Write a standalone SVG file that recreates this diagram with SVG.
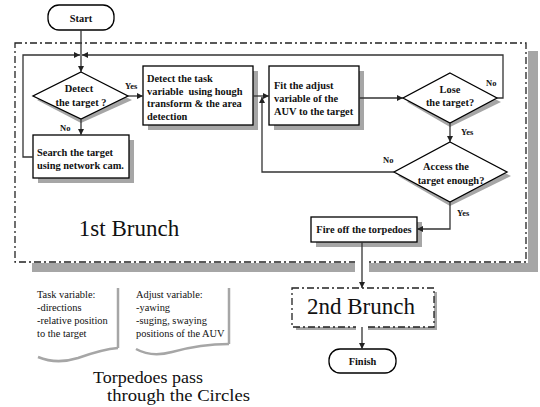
<svg xmlns="http://www.w3.org/2000/svg" width="540" height="407" viewBox="0 0 540 407">
  <defs>
    <marker id="arrow" markerWidth="6" markerHeight="6" refX="6" refY="3" orient="auto" markerUnits="userSpaceOnUse">
      <path d="M0,0 L6,3 L0,6 z" fill="#222"/>
    </marker>
    <style>
      .box { fill: #fff; stroke: #000; stroke-width: 1.3; }
      .shadow { fill: #a6a6a6; stroke: none; }
      .dashed { fill: none; stroke: #222; stroke-width: 1.3; stroke-dasharray: 7 3 2 3; }
      .conn { fill: none; stroke: #333; stroke-width: 1.3; marker-end: url(#arrow); }
      .line { fill: none; stroke: #333; stroke-width: 1.3; }
      .b { font-family: "Liberation Serif", serif; font-weight: bold; font-size: 10.4px; fill: #111; white-space: pre; }
      .lbl { font-family: "Liberation Serif", serif; font-weight: bold; font-size: 8.5px; fill: #111; }
      .big { font-family: "Liberation Serif", serif; font-size: 23px; fill: #111; }
      .note { font-family: "Liberation Serif", serif; font-size: 10.4px; fill: #111; }
      .cap { font-family: "Liberation Serif", serif; font-size: 17px; fill: #111; }
      .doc { fill: none; stroke: #a6a6a6; stroke-width: 2.5; }
      .mid { text-anchor: middle; }
    </style>
  </defs>

  <!-- 1st Brunch frame with drop shadow -->
  <g id="brunch1">
    <rect class="shadow" x="528" y="51" width="10" height="221"/>
    <rect class="shadow" x="32" y="263" width="506" height="9"/>
    <rect x="15" y="43" width="511" height="219" class="dashed"/>
    <rect x="355" y="258" width="14" height="16" fill="#fff"/>
    <text class="big mid" x="129" y="236">1st Brunch</text>
  </g>

  <g id="start">
    <rect class="box" x="48" y="5" width="66" height="25" rx="11"/>
    <text class="b mid" x="81" y="21.5">Start</text>
  </g>

  <g id="detect-target">
    <polygon class="shadow" points="81,76 132,100 81,123 37,100"/>
    <polygon class="box" points="81,72 128,96 81,119 33,96"/>
    <text class="b mid" x="79" y="92">Detect</text>
    <text class="b mid" x="81" y="106">the target ?</text>
  </g>

  <g id="search-target">
    <rect class="shadow" x="38" y="140" width="96" height="43"/>
    <rect class="box" x="33" y="135" width="96" height="43"/>
    <text class="b" x="37" y="155.5">Search the target</text>
    <text class="b" x="37" y="168.5">using network cam.</text>
  </g>

  <g id="detect-task">
    <rect class="shadow" x="148" y="71" width="110" height="59"/>
    <rect class="box" x="143" y="66" width="110" height="59"/>
    <text class="b" x="147" y="82">Detect the task</text>
    <text class="b" x="147" y="94.5">variable  using hough</text>
    <text class="b" x="147" y="107">transform &amp; the area</text>
    <text class="b" x="147" y="119.5">detection</text>
  </g>

  <g id="fit-adjust">
    <rect class="shadow" x="274" y="71" width="90" height="59"/>
    <rect class="box" x="269" y="66" width="90" height="59"/>
    <text class="b" x="274" y="89">Fit the adjust</text>
    <text class="b" x="274" y="102">variable of the</text>
    <text class="b" x="274" y="115">AUV to the target</text>
  </g>

  <g id="lose-target">
    <polygon class="shadow" points="450,77 501,102 450,127 407,102"/>
    <polygon class="box" points="450,73 497,98 450,123 403,98"/>
    <text class="b mid" x="450" y="93">Lose</text>
    <text class="b mid" x="450" y="106">the target?</text>
  </g>

  <g id="access-target">
    <polygon class="shadow" points="450,146 511,176 450,206 398,176"/>
    <polygon class="box" points="450,142 507,172 450,202 394,172"/>
    <text class="b mid" x="446" y="170">Access the</text>
    <text class="b mid" x="451" y="183.5">target enough?</text>
  </g>

  <g id="fire">
    <rect class="shadow" x="316" y="222" width="106" height="25"/>
    <rect class="box" x="311" y="217" width="106" height="25"/>
    <text class="b mid" x="364" y="233">Fire off the torpedoes</text>
  </g>

  <g id="brunch2">
    <rect class="shadow" x="296" y="327" width="140" height="3"/>
    <rect class="shadow" x="434" y="292" width="3" height="38"/>
    <rect x="292" y="288" width="142" height="39" class="dashed" fill="#fff"/>
    <rect x="356" y="324" width="12" height="8" fill="#fff"/>
    <text class="big mid" x="361" y="314">2nd Brunch</text>
  </g>

  <g id="finish">
    <rect class="box" x="329" y="349" width="67" height="24" rx="11"/>
    <text class="b mid" x="362.5" y="365">Finish</text>
  </g>

  <!-- connectors -->
  <g id="connectors">
    <path class="conn" d="M81,30 V72"/>
    <path class="conn" d="M33,157 H23 V55 H80"/>
    <path class="conn" d="M497,98 H503 V55 H82"/>
    <path class="conn" d="M128,96 H143"/>
    <path class="conn" d="M81,119 V135"/>
    <path class="conn" d="M253,96 H269"/>
    <path class="conn" d="M359,98 H403"/>
    <path class="conn" d="M450,123 V142"/>
    <path class="conn" d="M394,172 H262 V97"/>
    <path class="conn" d="M450,202 V229 H417"/>
    <path class="conn" d="M362,242 V288"/>
    <path class="conn" d="M362,327 V349"/>
    <text class="lbl" x="125" y="89">Yes</text>
    <text class="lbl" x="60" y="131">No</text>
    <text class="lbl" x="486" y="86">No</text>
    <text class="lbl" x="461" y="135">Yes</text>
    <text class="lbl" x="383" y="163">No</text>
    <text class="lbl" x="457" y="216">Yes</text>
  </g>

  <!-- note documents -->
  <g id="note-task">
    <path class="doc" d="M118,288 V348"/>
    <path class="doc" d="M38,357 C50,362 62,363 78,358 C92,353 105,349 118,348"/>
    <text class="note" x="37" y="298">Task variable:</text>
    <text class="note" x="37" y="311">-directions</text>
    <text class="note" x="37" y="324">-relative position</text>
    <text class="note" x="37" y="337">to the target</text>
  </g>

  <g id="note-adjust">
    <path class="doc" d="M229,288 V344"/>
    <path class="doc" d="M136,349 C145,354 157,356 172,352 C190,347 210,344 229,344"/>
    <text class="note" x="136" y="298">Adjust variable:</text>
    <text class="note" x="136" y="311">-yawing</text>
    <text class="note" x="136" y="324">-suging, swaying</text>
    <text class="note" x="136" y="337">positions of the AUV</text>
  </g>

  <g id="caption">
    <text class="cap" x="93" y="383" textLength="110" lengthAdjust="spacingAndGlyphs">Torpedoes pass</text>
    <text class="cap" x="107" y="401" textLength="143" lengthAdjust="spacingAndGlyphs">through the Circles</text>
  </g>
</svg>
